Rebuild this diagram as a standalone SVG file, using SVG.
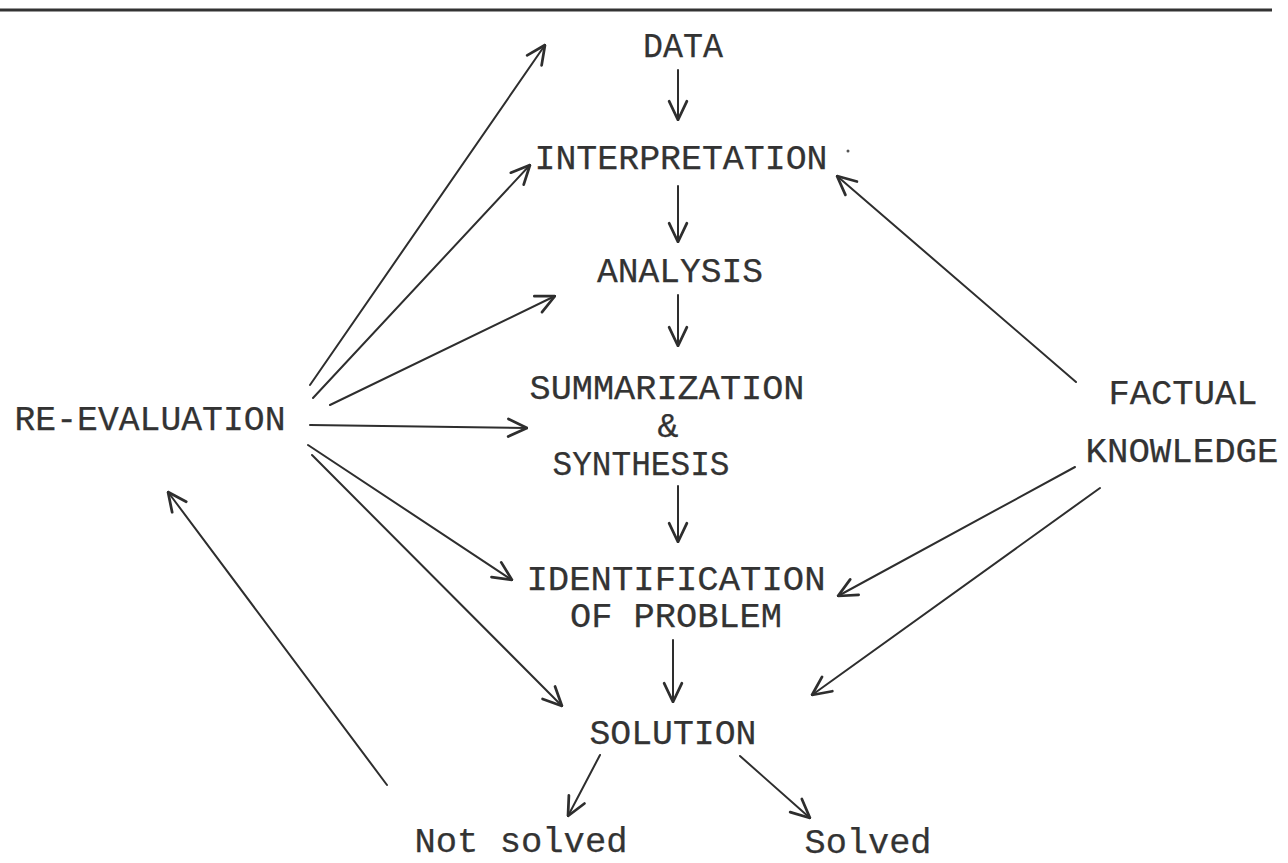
<svg xmlns="http://www.w3.org/2000/svg" width="1288" height="863" viewBox="0 0 1288 863">
<defs>
<style>
.t{font-family:"Liberation Mono","Courier New",monospace;font-size:35px;fill:#333333;stroke:#333333;stroke-width:0.25;text-anchor:middle}
.c{stroke:#2e2e2e;stroke-width:2;fill:none;stroke-linecap:round}
</style>
<marker id="ah" markerUnits="userSpaceOnUse" viewBox="0 0 20 20" refX="19" refY="10" markerWidth="22" markerHeight="22" orient="auto">
<path d="M2,2 L19,10 L2,18" fill="none" stroke="#2e2e2e" stroke-width="2.5" stroke-linecap="round" stroke-linejoin="round"/>
</marker>
</defs>
<rect width="1288" height="863" fill="#ffffff"/>
<line x1="0" y1="10" x2="1272" y2="10" stroke="#333" stroke-width="3"/>
<g id="data"><text class="t" x="683" y="57" textLength="80" lengthAdjust="spacingAndGlyphs">DATA</text></g>
<g id="interpretation"><text class="t" x="681" y="169" textLength="293" lengthAdjust="spacingAndGlyphs">INTERPRETATION</text><circle cx="848" cy="151" r="1.5" fill="#555"/></g>
<g id="analysis"><text class="t" x="680" y="282" textLength="166" lengthAdjust="spacingAndGlyphs">ANALYSIS</text></g>
<g id="summarization"><text class="t" x="667" y="399" textLength="275" lengthAdjust="spacingAndGlyphs">SUMMARIZATION</text><text class="t" x="668" y="437">&amp;</text><text class="t" x="641" y="475" textLength="177" lengthAdjust="spacingAndGlyphs">SYNTHESIS</text></g>
<g id="identification"><text class="t" x="676" y="590" textLength="299" lengthAdjust="spacingAndGlyphs">IDENTIFICATION</text><text class="t" x="676" y="627" textLength="212" lengthAdjust="spacingAndGlyphs">OF PROBLEM</text></g>
<g id="solution"><text class="t" x="673" y="744" textLength="167" lengthAdjust="spacingAndGlyphs">SOLUTION</text></g>
<g id="not-solved"><text class="t" x="521" y="852" textLength="213" lengthAdjust="spacingAndGlyphs">Not solved</text></g>
<g id="solved"><text class="t" x="868" y="853" textLength="127" lengthAdjust="spacingAndGlyphs">Solved</text></g>
<g id="re-evaluation"><text class="t" x="150" y="430" textLength="271" lengthAdjust="spacingAndGlyphs">RE-EVALUATION</text></g>
<g id="factual-knowledge"><text class="t" x="1183" y="404" textLength="149" lengthAdjust="spacingAndGlyphs">FACTUAL</text><text class="t" x="1182" y="462" textLength="193" lengthAdjust="spacingAndGlyphs">KNOWLEDGE</text></g>
<g id="connectors">
<line class="c" x1="678" y1="70" x2="678" y2="120" marker-end="url(#ah)"/>
<line class="c" x1="678" y1="186" x2="678" y2="242" marker-end="url(#ah)"/>
<line class="c" x1="678" y1="295" x2="678" y2="346" marker-end="url(#ah)"/>
<line class="c" x1="678" y1="486" x2="678" y2="542" marker-end="url(#ah)"/>
<line class="c" x1="673" y1="640" x2="673" y2="702" marker-end="url(#ah)"/>
<line class="c" x1="310" y1="385" x2="545" y2="45" marker-end="url(#ah)"/>
<line class="c" x1="313" y1="398" x2="530" y2="165" marker-end="url(#ah)"/>
<line class="c" x1="330" y1="405" x2="555" y2="296" marker-end="url(#ah)"/>
<line class="c" x1="310" y1="425" x2="527" y2="428" marker-end="url(#ah)"/>
<line class="c" x1="308" y1="445" x2="512" y2="580" marker-end="url(#ah)"/>
<line class="c" x1="312" y1="455" x2="562" y2="706" marker-end="url(#ah)"/>
<line class="c" x1="387" y1="785" x2="168" y2="492" marker-end="url(#ah)"/>
<line class="c" x1="1076" y1="382" x2="837" y2="176" marker-end="url(#ah)"/>
<line class="c" x1="1075" y1="467" x2="838" y2="596" marker-end="url(#ah)"/>
<line class="c" x1="1100" y1="488" x2="812" y2="695" marker-end="url(#ah)"/>
<line class="c" x1="600" y1="755" x2="568" y2="816" marker-end="url(#ah)"/>
<line class="c" x1="740" y1="756" x2="810" y2="818" marker-end="url(#ah)"/>
</g>
</svg>
